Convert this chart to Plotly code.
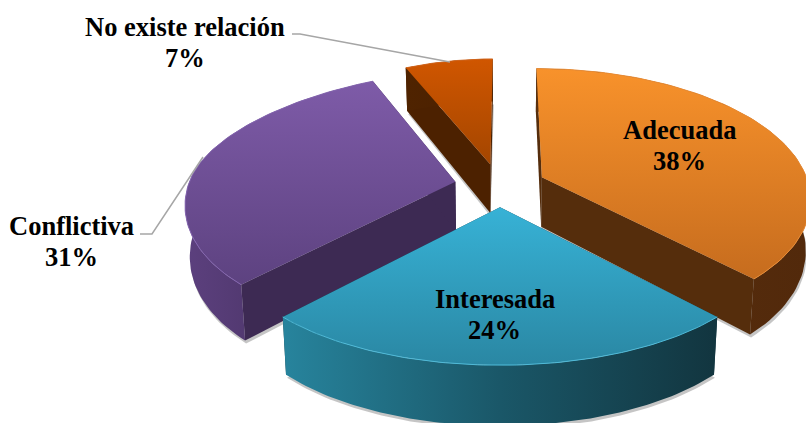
"""Exploded 3D-look pie: Plotly has no 3D pie, so the faces are built from the shares."""
import numpy as np
import plotly.graph_objects as go

categories = ["Adecuada", "Interesada", "Conflictiva", "No existe relación"]
shares = [38, 24, 31, 7]

# look of each slice: top gradient, wall gradient (left to right), cut face colour
top_colors = [("#C66C1E", "#F8922B"), ("#2A87A3", "#37B2D6"), ("#5D4280", "#7E5BA8"), ("#A44600", "#D05600")]
wall_colors = [("#5A300E", "#52290B"), ("#27849D", "#1A5768", "#12353F"), ("#5C407E", "#3E2B56"), ("#4F2300", "#4A2000")]
rim_colors = ["#E98C35", "#4FBAD8", "#8566B0", "#D2641A"]
cut_colors = ["#552D0C", "#133742", "#3D2A53", "#4C2100"]

# label text position and leader line (None when the label sits on the slice)
label_xy = [(679, 145.5), (494.5, 314), (71.5, 241.5), (184.5, 42.5)]
leader_path = [None, None, [(140, 234), (152, 234), (203, 157)], [(292, 34), (300, 34), (450, 62)]]

W, H = 806, 423
CX, CY = 500, 185
RX, RY = 267, 127
TILT = 0.15
DEPTH = 50
EXPLODE = 0.17
LINE_GAP = 31
draw_order = [3, 2, 0, 1]


def project(wx, wy, z=0.0):
    p = 1 / (1 + TILT * wy)
    # hand-fitted: the back left narrows faster, the front widens a little
    back = np.where(np.asarray(wx) < 0, 1 - 0.1 * np.maximum(wy, 0) ** 2, 1.0)
    front = 1 + 0.035 * np.minimum(wy, 0) ** 2
    px = p * back * front
    sx = CX + (wx * RX * px) * (1 - 0.015 * z)
    sy = CY - wy * RY * p + DEPTH * p * z
    return sx, sy


def poly(xs, ys, colors, gtype="vertical"):
    stops = [[j / (len(colors) - 1), c] for j, c in enumerate(colors)]
    return go.Scatter(
        x=xs, y=ys, mode="lines", fill="toself", line=dict(width=0),
        fillgradient=dict(type=gtype, colorscale=stops),
        hoverinfo="skip", showlegend=False,
    )


def solid(xs, ys, color):
    return go.Scatter(x=xs, y=ys, mode="lines", fill="toself", line=dict(width=0),
                      fillcolor=color, hoverinfo="skip", showlegend=False)


fig = go.Figure()

edges = np.cumsum([0] + shares) / sum(shares) * 2 * np.pi
for i in draw_order:
    t0, t1 = edges[i], edges[i + 1]
    mid = (t0 + t1) / 2
    ox, oy = EXPLODE * np.sin(mid), EXPLODE * np.cos(mid)
    t = np.linspace(t0, t1, 80)
    wx, wy = ox + np.sin(t), oy + np.cos(t)

    ax0, ay0 = project(ox, oy, 0)
    ax1, ay1 = project(ox, oy, 1)
    rx0, ry0 = project(wx, wy, 0)
    rx1, ry1 = project(wx, wy, 1)

    # soft shadow under the wall
    fig.add_trace(solid(np.r_[rx1 + 1, ax1], np.r_[ry1 + 3, ay1 + 3], "rgba(90,90,90,0.35)"))

    # cut faces
    for k in (0, -1):
        fig.add_trace(solid([ax0, rx0[k], rx1[k], ax1], [ay0, ry0[k], ry1[k], ay1], cut_colors[i]))

    # outer wall
    fig.add_trace(poly(np.r_[rx0, rx1[::-1]], np.r_[ry0, ry1[::-1]], wall_colors[i], "horizontal"))

    # top face
    fig.add_trace(poly(np.r_[ax0, rx0, ax0], np.r_[ay0, ry0, ay0], top_colors[i]))

    # bevel along the rim
    fig.add_trace(go.Scatter(x=rx0, y=ry0, mode="lines", line=dict(color=rim_colors[i], width=1),
                             hoverinfo="skip", showlegend=False))

for i, name in enumerate(categories):
    if leader_path[i]:
        xs, ys = zip(*leader_path[i])
        fig.add_trace(go.Scatter(x=xs, y=ys, mode="lines", line=dict(color="#A6A6A6", width=1.5),
                                 hoverinfo="skip", showlegend=False))
    # two annotations, plotly's own line spacing is wider than the reference's
    for text, dy in ((name, -LINE_GAP / 2), (f"{shares[i]}%", LINE_GAP / 2)):
        fig.add_annotation(
            x=label_xy[i][0], y=label_xy[i][1] + dy, text=f"<b>{text}</b>", showarrow=False,
            font=dict(family="Liberation Serif", size=26.5, color="#000000"),
        )

fig.update_layout(
    width=W, height=H,
    margin=dict(l=0, r=0, t=0, b=0),
    paper_bgcolor="white", plot_bgcolor="white",
    xaxis=dict(range=[0, W], visible=False, fixedrange=True),
    yaxis=dict(range=[H, 0], visible=False, fixedrange=True),
    showlegend=False,
)
# the browser's default body margin would push the figure 8px in
fig.write_html("out.html", config=dict(displayModeBar=False),
               post_script="document.body.style.margin='0';document.body.style.overflow='hidden';")
